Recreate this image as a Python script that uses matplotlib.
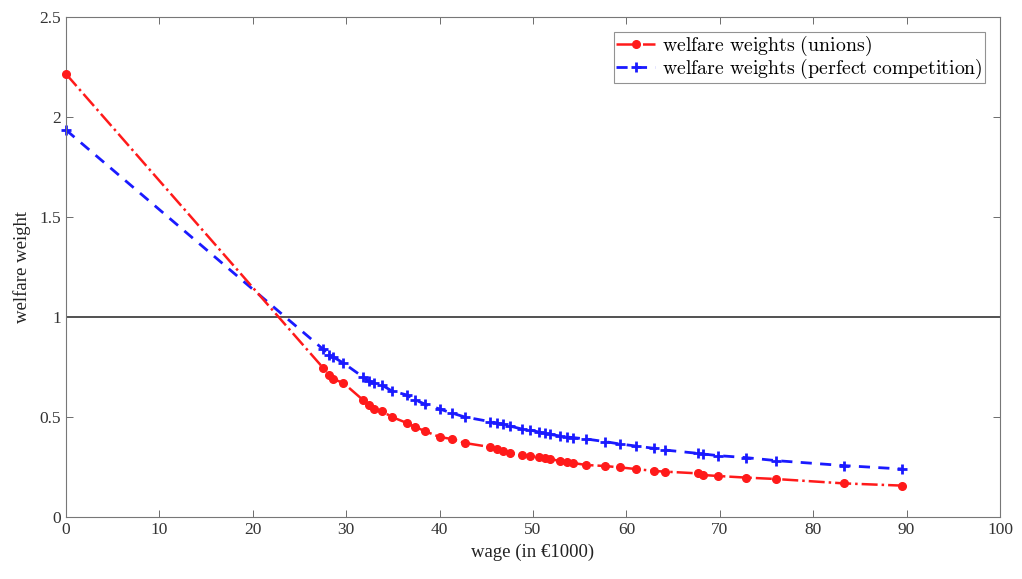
import matplotlib
matplotlib.use("Agg")
import matplotlib.pyplot as plt

# wage grid (in 1000 euro) and welfare weights
wage = [0, 27.5, 28.2, 28.6, 29.7, 31.8, 32.4, 33.0, 33.8, 34.9, 36.5, 37.4, 38.4,
        40.0, 41.3, 42.7, 45.4, 46.1, 46.8, 47.5, 48.8, 49.7, 50.6, 51.3, 51.8,
        52.9, 53.6, 54.3, 55.7, 57.7, 59.3, 61.0, 63.0, 64.1, 67.7, 68.2, 69.8,
        72.8, 76.0, 83.3, 89.5]
unions = [2.215, 0.747, 0.71, 0.69, 0.67, 0.585, 0.56, 0.54, 0.53, 0.50, 0.47,
          0.45, 0.43, 0.40, 0.39, 0.37, 0.35, 0.34, 0.33, 0.32, 0.31, 0.306, 0.30,
          0.293, 0.29, 0.28, 0.277, 0.27, 0.26, 0.255, 0.248, 0.24, 0.23, 0.227,
          0.218, 0.21, 0.205, 0.197, 0.19, 0.168, 0.157]
perfect = [1.935, 0.84, 0.81, 0.80, 0.77, 0.70, 0.68, 0.67, 0.66, 0.63, 0.61,
           0.585, 0.565, 0.54, 0.52, 0.50, 0.477, 0.47, 0.463, 0.455, 0.44, 0.435,
           0.425, 0.418, 0.413, 0.405, 0.40, 0.397, 0.39, 0.377, 0.365, 0.355,
           0.343, 0.335, 0.318, 0.315, 0.307, 0.297, 0.282, 0.257, 0.24]

plt.rcParams['font.family'] = ['Liberation Serif', 'DejaVu Serif']
plt.rcParams['mathtext.fontset'] = 'cm'

fig = plt.figure(figsize=(10.22, 5.79), dpi=100)
ax = fig.add_axes([66/1022, 1-517/579, 934/1022, 500/579])

ax.axhline(1, color='#333333', lw=1.2, zorder=1)
ax.plot(wage, unions, color='#ff1a1a', ls='-.', lw=1.8, marker='o', ms=5.5,
        label=r'$\mathrm{welfare\ weights\ (unions)}$', zorder=3, clip_on=False)
ax.plot(wage, perfect, color='#1a1aff', ls='--', lw=2, marker='+', ms=7, mew=2,
        dashes=(4, 3), label=r'$\mathrm{welfare\ weights\ (perfect\ competition)}$',
        zorder=2, clip_on=False)

ax.set_xlim(0, 100)
ax.set_ylim(0, 2.5)
ax.set_xticks(range(0, 101, 10))
ax.set_yticks([0, 0.5, 1, 1.5, 2, 2.5])
ax.set_yticklabels(['0', '0.5', '1', '1.5', '2', '2.5'])
ax.tick_params(direction='in', top=True, right=True, length=5, width=0.6,
               color='#555555', labelcolor='#333333', labelsize=12.5)
for s in ax.spines.values():
    s.set_color('#777777')
    s.set_linewidth(0.8)

ax.set_xlabel('wage (in €1000)', fontsize=13.5, color='#222222', labelpad=4)
ax.set_ylabel('welfare weight', fontsize=13.5, color='#222222', labelpad=6)

leg = ax.legend(loc='upper right', bbox_to_anchor=(0.984, 0.97), borderaxespad=0,
                fontsize=14.3, frameon=True, fancybox=False, edgecolor='#777777',
                handlelength=2.0, handletextpad=0.35, borderpad=0.1,
                labelspacing=-0.05)
leg.get_frame().set_linewidth(0.8)

fig.savefig('out.png', dpi=100)
